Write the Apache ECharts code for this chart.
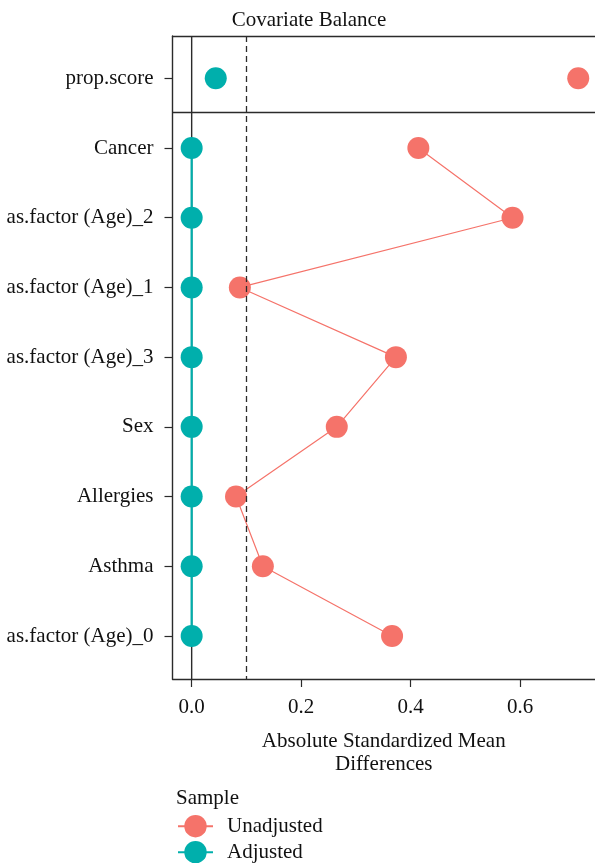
<!DOCTYPE html>
<html>
<head>
<meta charset="utf-8">
<script src="https://cdn.jsdelivr.net/npm/echarts@6/dist/echarts.min.js"></script>
<style>html,body{margin:0;padding:0;background:#fff}#c{width:595px;height:863px}</style>
</head>
<body>
<div id="c"></div>
<script>
const categories = ['prop.score','Cancer','as.factor (Age)_2','as.factor (Age)_1','as.factor (Age)_3','Sex','Allergies','Asthma','as.factor (Age)_0'];
const unadjusted = [0.706,0.414,0.586,0.088,0.373,0.265,0.081,0.130,0.366];
const adjusted = [0.044,0,0,0,0,0,0,0,0];
const xTicks = [0,0.2,0.4,0.6];
const threshold = 0.1;

const FONT = 'Liberation Serif';
const FS = 21;
const RED = '#F5736A', TEAL = '#00AFAC', INK = '#2b2b2b';
const rowIdx = categories.map((_, i) => i);
const panelBreak = 0.483;
const Y_MIN = -0.607, Y_MAX = 8.617;

function pts(vals, from, to) {
  const out = [];
  for (let i = from; i < to; i++) out.push([vals[i], i]);
  return out;
}

const legendCommon = {
  orient: 'vertical', left: 172,
  itemWidth: 35, itemHeight: 28, itemGap: 0,
  textStyle: {fontFamily: FONT, fontSize: FS, color: '#111', padding: [0, 0, 0, 9]}
};

const chart = echarts.init(document.getElementById('c'));
chart.setOption({
  animation: false,
  backgroundColor: '#fff',
  title: [
    {text: 'Covariate Balance', left: 304, textAlign: 'center', top: 5,
     textStyle: {fontFamily: FONT, fontSize: FS, fontWeight: 'normal', color: '#111'}},
    {text: 'Sample', left: 171, top: 783,
     textStyle: {fontFamily: FONT, fontSize: FS, fontWeight: 'normal', color: '#111'}}
  ],
  legend: [
    Object.assign({data: ['Unadjusted'], top: 810}, legendCommon),
    Object.assign({data: ['Adjusted'], top: 836}, legendCommon)
  ],
  grid: {left: 172.5, right: 0, top: 36, bottom: 184},
  xAxis: [{
    type: 'value', min: -0.035, max: 0.7366, position: 'bottom',
    name: 'Absolute Standardized Mean\nDifferences', nameLocation: 'middle', nameGap: 51,
    nameTextStyle: {fontFamily: FONT, fontSize: FS, color: '#111', lineHeight: 23},
    axisLine: {show: true, onZero: false, lineStyle: {color: INK, width: 1.4}},
    axisTick: {show: true, length: 8, customValues: xTicks, lineStyle: {color: INK, width: 1.2}},
    axisLabel: {customValues: xTicks, formatter: v => v.toFixed(1), margin: 18,
      fontFamily: FONT, fontSize: FS, color: '#111'},
    splitLine: {show: false}
  }, {
    type: 'value', min: -0.035, max: 0.7366, position: 'top',
    axisLine: {show: true, onZero: false, lineStyle: {color: INK, width: 1.4}},
    axisTick: {show: false}, axisLabel: {show: false}, splitLine: {show: false}
  }],
  yAxis: {
    type: 'value', inverse: true, min: Y_MIN, max: Y_MAX,
    axisLine: {show: true, onZero: false, lineStyle: {color: INK, width: 1.4}},
    axisTick: {show: true, length: 8, customValues: rowIdx, lineStyle: {color: INK, width: 1.2}},
    axisLabel: {customValues: rowIdx, formatter: v => categories[Math.round(v)], margin: 19,
      fontFamily: FONT, fontSize: FS, color: '#111'},
    splitLine: {show: false}
  },
  series: [
    {
      type: 'line', name: 'ref', data: [], z: 0, silent: true,
      markLine: {
        silent: true, symbol: 'none', label: {show: false}, animation: false,
        data: [
          {xAxis: threshold, lineStyle: {color: INK, width: 1.3, type: [6, 4]}},
          {yAxis: panelBreak, lineStyle: {color: INK, width: 1.4, type: 'solid'}}
        ]
      }
    },
    {
      type: 'line', name: 'zero', data: [[0, Y_MIN], [0, Y_MAX]], z: 1, silent: true,
      symbol: 'none', lineStyle: {color: INK, width: 1.4}
    },
    {
      type: 'line', name: 'Unadjusted', data: pts(unadjusted, 1, categories.length), z: 3,
      symbol: 'circle', symbolSize: 22, itemStyle: {color: RED, opacity: 1},
      lineStyle: {color: RED, width: 1.2}
    },
    {
      type: 'line', name: 'Adjusted', data: pts(adjusted, 1, categories.length), z: 4,
      symbol: 'circle', symbolSize: 22, itemStyle: {color: TEAL, opacity: 1},
      lineStyle: {color: TEAL, width: 2.2}
    },
    {
      type: 'scatter', name: 'Unadjusted', data: pts(unadjusted, 0, 1), z: 3,
      symbol: 'circle', symbolSize: 22, itemStyle: {color: RED, opacity: 1}
    },
    {
      type: 'scatter', name: 'Adjusted', data: pts(adjusted, 0, 1), z: 4,
      symbol: 'circle', symbolSize: 22, itemStyle: {color: TEAL, opacity: 1}
    }
  ]
});
</script>
</body>
</html>
